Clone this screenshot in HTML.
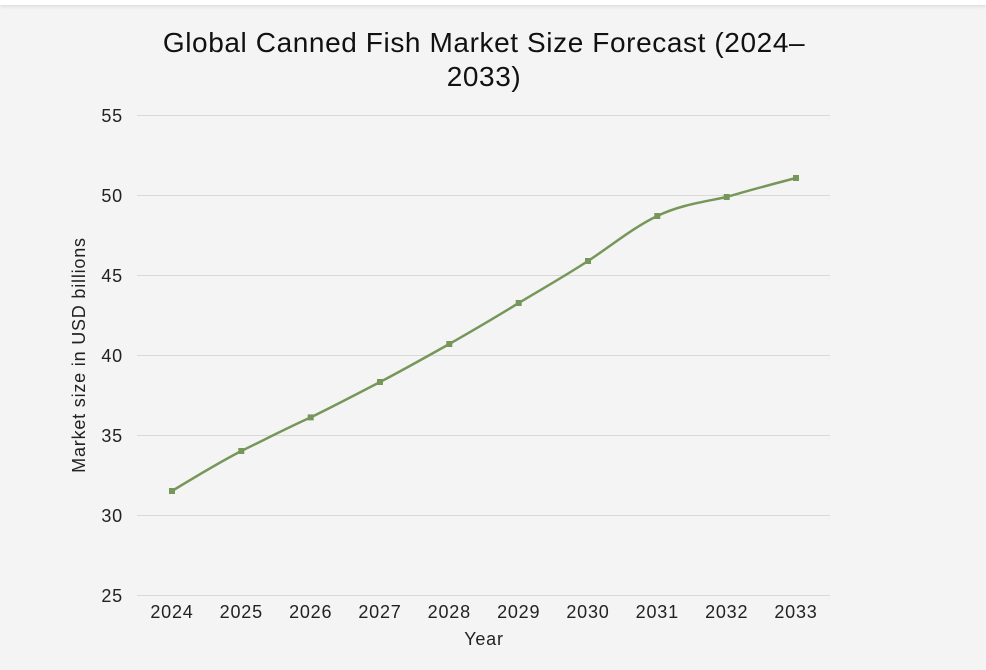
<!DOCTYPE html>
<html><head><meta charset="utf-8"><style>
body{margin:0;width:986px;height:670px;background:#f4f4f4;overflow:hidden;font-family:"Liberation Sans",sans-serif;}
.top{position:absolute;left:0;top:0;width:986px;height:5px;background:#fff;box-shadow:0 1px 4px rgba(0,0,0,0.12);}
</style></head><body>
<div class="top"></div>
<svg width="986" height="670" style="position:absolute;left:0;top:0" font-family="Liberation Sans, sans-serif">
<text x="484" y="52" text-anchor="middle" font-size="28" letter-spacing="0.6" fill="#111">Global Canned Fish Market Size Forecast (2024–</text>
<text x="484" y="86" text-anchor="middle" font-size="28" letter-spacing="0.6" fill="#111">2033)</text>
<g stroke="#d9d9d9" stroke-width="1">
<line x1="137" x2="830" y1="115.5" y2="115.5"/><line x1="137" x2="830" y1="195.5" y2="195.5"/>
<line x1="137" x2="830" y1="275.5" y2="275.5"/><line x1="137" x2="830" y1="355.5" y2="355.5"/>
<line x1="137" x2="830" y1="435.5" y2="435.5"/><line x1="137" x2="830" y1="515.5" y2="515.5"/>
<line x1="137" x2="830" y1="595.5" y2="595.5"/>
</g>
<g font-size="18" letter-spacing="0.8" fill="#222" text-anchor="end">
<text x="123" y="122">55</text><text x="123" y="202">50</text><text x="123" y="282">45</text>
<text x="123" y="362">40</text><text x="123" y="442">35</text><text x="123" y="522">30</text><text x="123" y="602">25</text>
</g>
<g font-size="18" letter-spacing="0.8" fill="#222" text-anchor="middle">
<text x="172" y="618">2024</text><text x="241.3" y="618">2025</text><text x="310.7" y="618">2026</text>
<text x="380" y="618">2027</text><text x="449.3" y="618">2028</text><text x="518.7" y="618">2029</text>
<text x="588" y="618">2030</text><text x="657.3" y="618">2031</text><text x="726.7" y="618">2032</text>
<text x="796" y="618">2033</text>
<text x="484" y="645">Year</text>
</g>
<text transform="translate(85,355) rotate(-90)" text-anchor="middle" font-size="18" letter-spacing="0.8" fill="#222">Market size in USD billions</text>
<path d="M172,491 C195,477 218,463 241.3,451 C264,440 287,428 310.7,417.4 C334,406 357,394 380,382 C403,370 426,357 449.3,344 C472,331 496,317 518.7,303 C542,289 565,276 588,261 C611,246 634,227 657.3,216 C680,205 703,202 726.7,197 C750,190 773,184 796,178" fill="none" stroke="#77975a" stroke-width="2.5"/>
<g fill="#77975a">
<rect x="169" y="488" width="6" height="6"/><rect x="238.3" y="448" width="6" height="6"/>
<rect x="307.7" y="414.4" width="6" height="6"/><rect x="377" y="379" width="6" height="6"/>
<rect x="446.3" y="341" width="6" height="6"/><rect x="515.7" y="300" width="6" height="6"/>
<rect x="585" y="258" width="6" height="6"/><rect x="654.3" y="213" width="6" height="6"/>
<rect x="723.7" y="194" width="6" height="6"/><rect x="793" y="175" width="6" height="6"/>
</g>
</svg>
</body></html>
